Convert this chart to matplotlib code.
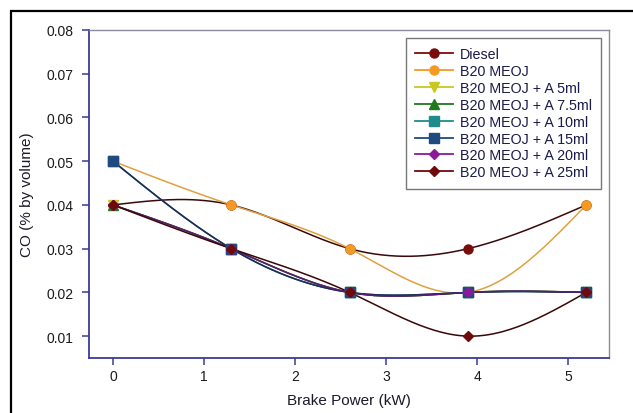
import numpy as np
import matplotlib
matplotlib.use("Agg")
import matplotlib.pyplot as plt
from matplotlib.patches import Rectangle

plt.rcParams['font.family'] = ['Liberation Sans', 'DejaVu Sans']

brake_power = [0, 1.3, 2.6, 3.9, 5.2]
series_names = ["Diesel", "B20 MEOJ", "B20 MEOJ + A 5ml", "B20 MEOJ + A 7.5ml",
                "B20 MEOJ + A 10ml", "B20 MEOJ + A 15ml", "B20 MEOJ + A 20ml",
                "B20 MEOJ + A 25ml"]
diesel = [0.04, 0.04, 0.03, 0.03, 0.04]
b20 = [0.05, 0.04, 0.03, 0.02, 0.04]
a5 = [0.04, 0.03, 0.02, 0.02, 0.02]
a75 = [0.04, 0.03, 0.02, 0.02, 0.02]
a10 = [0.05, 0.03, 0.02, 0.02, 0.02]
a15 = [0.05, 0.03, 0.02, 0.02, 0.02]
a20 = [0.04, 0.03, 0.02, 0.02, 0.02]
a25 = [0.04, 0.03, 0.02, 0.01, 0.02]
series_values = [diesel, b20, a5, a75, a10, a15, a20, a25]

marker_colors = ["#7a0c0c", "#f39a24", "#c8c820", "#1f7a1f", "#1f8c8c",
                 "#1f4a80", "#8a1a9a", "#6e0a0a"]
line_colors = ["#3a0808", "#e0a040", "#b0b020", "#1a5a1a", "#1a6a6a",
               "#1a2a5a", "#5a1a7a", "#3a0606"]
markers = ["o", "o", "v", "^", "s", "s", "D", "D"]


def natural_spline(x, y, n=200):
    x = np.asarray(x, float)
    y = np.asarray(y, float)
    k = len(x)
    h = np.diff(x)
    A = np.zeros((k, k))
    b = np.zeros(k)
    A[0, 0] = 1
    A[-1, -1] = 1
    for i in range(1, k - 1):
        A[i, i - 1] = h[i - 1]
        A[i, i] = 2 * (h[i - 1] + h[i])
        A[i, i + 1] = h[i]
        b[i] = 6 * ((y[i + 1] - y[i]) / h[i] - (y[i] - y[i - 1]) / h[i - 1])
    M = np.linalg.solve(A, b)
    xs = np.linspace(x[0], x[-1], n)
    ys = np.empty_like(xs)
    for j, xv in enumerate(xs):
        i = min(np.searchsorted(x, xv, side='right') - 1, k - 2)
        t1 = x[i + 1] - xv
        t0 = xv - x[i]
        ys[j] = (M[i] * t1 ** 3 / (6 * h[i]) + M[i + 1] * t0 ** 3 / (6 * h[i])
                 + (y[i] / h[i] - M[i] * h[i] / 6) * t1
                 + (y[i + 1] / h[i] - M[i + 1] * h[i] / 6) * t0)
    return xs, ys


fig = plt.figure(figsize=(6.33, 4.14), dpi=100)
ax = fig.add_axes([89 / 633, 1 - 359 / 414, (609 - 89) / 633, (359 - 31) / 414])

handles = []
for name, vals, mc, lc, mk in zip(series_names, series_values, marker_colors,
                                  line_colors, markers):
    xs, ys = natural_spline(brake_power, vals)
    ax.plot(xs, ys, color=lc, lw=1.1, zorder=2)
    ms = 6.5 if mk != 'D' else 5.5
    ax.plot(brake_power, vals, linestyle='none', marker=mk, color=mc,
            markersize=ms, markeredgecolor=mc, zorder=3)
    h, = ax.plot([], [], color=mc, lw=1.3, marker=mk, markersize=ms,
                 markeredgecolor=mc)
    handles.append(h)

ax.set_xlim(-0.264, 5.45)
ax.set_ylim(0.005, 0.08)
ax.set_xticks([0, 1, 2, 3, 4, 5])
yt = [0.01, 0.02, 0.03, 0.04, 0.05, 0.06, 0.07, 0.08]
ax.set_yticks(yt)
ax.set_yticklabels([f"{v:.2f}" for v in yt])

navy = "#3a3a9a"
for s in ["left", "bottom"]:
    ax.spines[s].set_color(navy)
    ax.spines[s].set_linewidth(1.3)
for s in ["top", "right"]:
    ax.spines[s].set_color("#8a8a9a")
    ax.spines[s].set_linewidth(1.0)
ax.tick_params(axis='both', direction='out', length=5, width=1.1, color=navy,
               labelsize=10, labelcolor="#1a1a1a", pad=6)
ax.tick_params(axis='x', pad=3)

ax.set_xlabel("Brake Power (kW)", fontsize=11, color="#1a1a2a", labelpad=7)
ax.set_ylabel("CO (% by volume)", fontsize=11, color="#1a1a2a", labelpad=9)

leg = ax.legend(handles, series_names, loc='upper right',
                bbox_to_anchor=((601 - 89) / 520, (359 - 39) / 328),
                fontsize=10.3, frameon=True, fancybox=False, handlelength=2.6,
                labelspacing=0.2, borderpad=0.65, handletextpad=0.5,
                borderaxespad=0)
leg.get_frame().set_edgecolor("#555555")
leg.get_frame().set_linewidth(1.0)
for t in leg.get_texts():
    t.set_color("#1a1a4a")

fig.patches.append(Rectangle((11 / 633, -0.05), 1.2, 1 - 12 / 414 + 0.05,
                             transform=fig.transFigure, fill=False,
                             edgecolor="black", linewidth=1.6))

fig.savefig("out.png", dpi=100)
